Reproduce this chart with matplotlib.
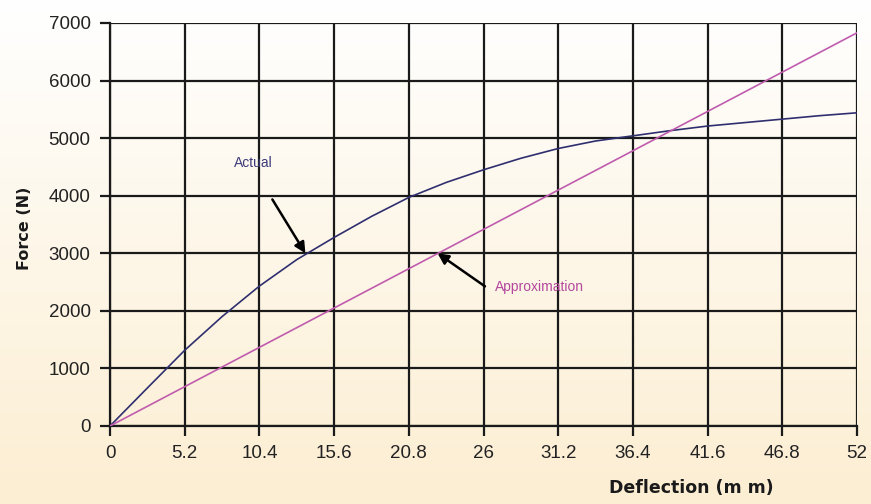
import numpy as np
import matplotlib.pyplot as plt

# Values
deflection = [0, 2.6, 5.2, 7.8, 10.4, 13, 15.6, 18.2, 20.8, 23.4, 26, 28.6,
              31.2, 33.8, 36.4, 39, 41.6, 44.2, 46.8, 49.4, 52]
force_actual = [0, 660, 1315, 1900, 2430, 2890, 3275, 3640, 3970, 4230, 4450,
                4650, 4820, 4950, 5040, 5130, 5210, 5270, 5330, 5390, 5440]
approx_x = [0, 52]
force_approx = [0, 6830]
xticks = [0, 5.2, 10.4, 15.6, 20.8, 26, 31.2, 36.4, 41.6, 46.8, 52]
xtick_labels = ['0', '5.2', '10.4', '15.6', '20.8', '26', '31.2', '36.4', '41.6', '46.8', '52']
yticks = [0, 1000, 2000, 3000, 4000, 5000, 6000, 7000]

plt.rcParams['font.family'] = ['Liberation Sans', 'DejaVu Sans']

fig = plt.figure(figsize=(8.71, 5.04), dpi=100)

# Background gradient, white at top to cream at bottom
bg = fig.add_axes([0, 0, 1, 1], zorder=-10)
top = np.array([1.0, 1.0, 1.0])
bottom = np.array([0xFC, 0xEE, 0xD2]) / 255
t = np.linspace(0, 1, 256)[:, None]
grad = top + (bottom - top) * t
bg.imshow(np.repeat(grad[:, None, :], 2, axis=1), aspect='auto', extent=[0, 1, 0, 1])
bg.axis('off')

ax = fig.add_axes([0.1263, 0.1548, 0.8577, 0.7996])
ax.set_facecolor('none')

ax.plot(deflection, force_actual, color='#2f2f6f', lw=1.2, zorder=3)
ax.plot(approx_x, force_approx, color='#c05cae', lw=1.2, zorder=3)

ax.set_xlim(0, 52)
ax.set_ylim(0, 7000)
ax.set_xticks(xticks)
ax.set_xticklabels(xtick_labels)
ax.set_yticks(yticks)
ax.grid(True, color='#1a1a1a', lw=1.6)
for s in ['top', 'right']:
    ax.spines[s].set_visible(False)
for s in ['left', 'bottom']:
    ax.spines[s].set_color('#1a1a1a')
    ax.spines[s].set_linewidth(1.6)
ax.tick_params(direction='out', length=7, width=1.6, color='#1a1a1a',
               labelsize=13.5, labelcolor='#222222', pad=7)

ax.set_xlabel('Deflection (m m)', fontsize=12.5, fontweight='heavy', color='#1a1a1a',
              labelpad=12, x=0.778, family='DejaVu Sans')
ax.set_ylabel('Force (N)', fontsize=11.5, fontweight='heavy', color='#1a1a1a',
              labelpad=12, y=0.49, family='DejaVu Sans')

ax.text(8.6, 4575, 'Actual', fontsize=10, color='#3b3b7a', va='center')
ax.annotate('', xy=(13.6, 3000), xytext=(11.3, 3935),
            arrowprops=dict(arrowstyle='-|>', color='black', lw=1.8,
                            mutation_scale=16, shrinkA=0, shrinkB=0))
ax.text(26.8, 2410, 'Approximation', fontsize=10, color='#b4489e', va='center')
ax.annotate('', xy=(22.8, 3000), xytext=(26.1, 2425),
            arrowprops=dict(arrowstyle='-|>', color='black', lw=1.8,
                            mutation_scale=16, shrinkA=0, shrinkB=0))

fig.savefig('out.png', dpi=100)
